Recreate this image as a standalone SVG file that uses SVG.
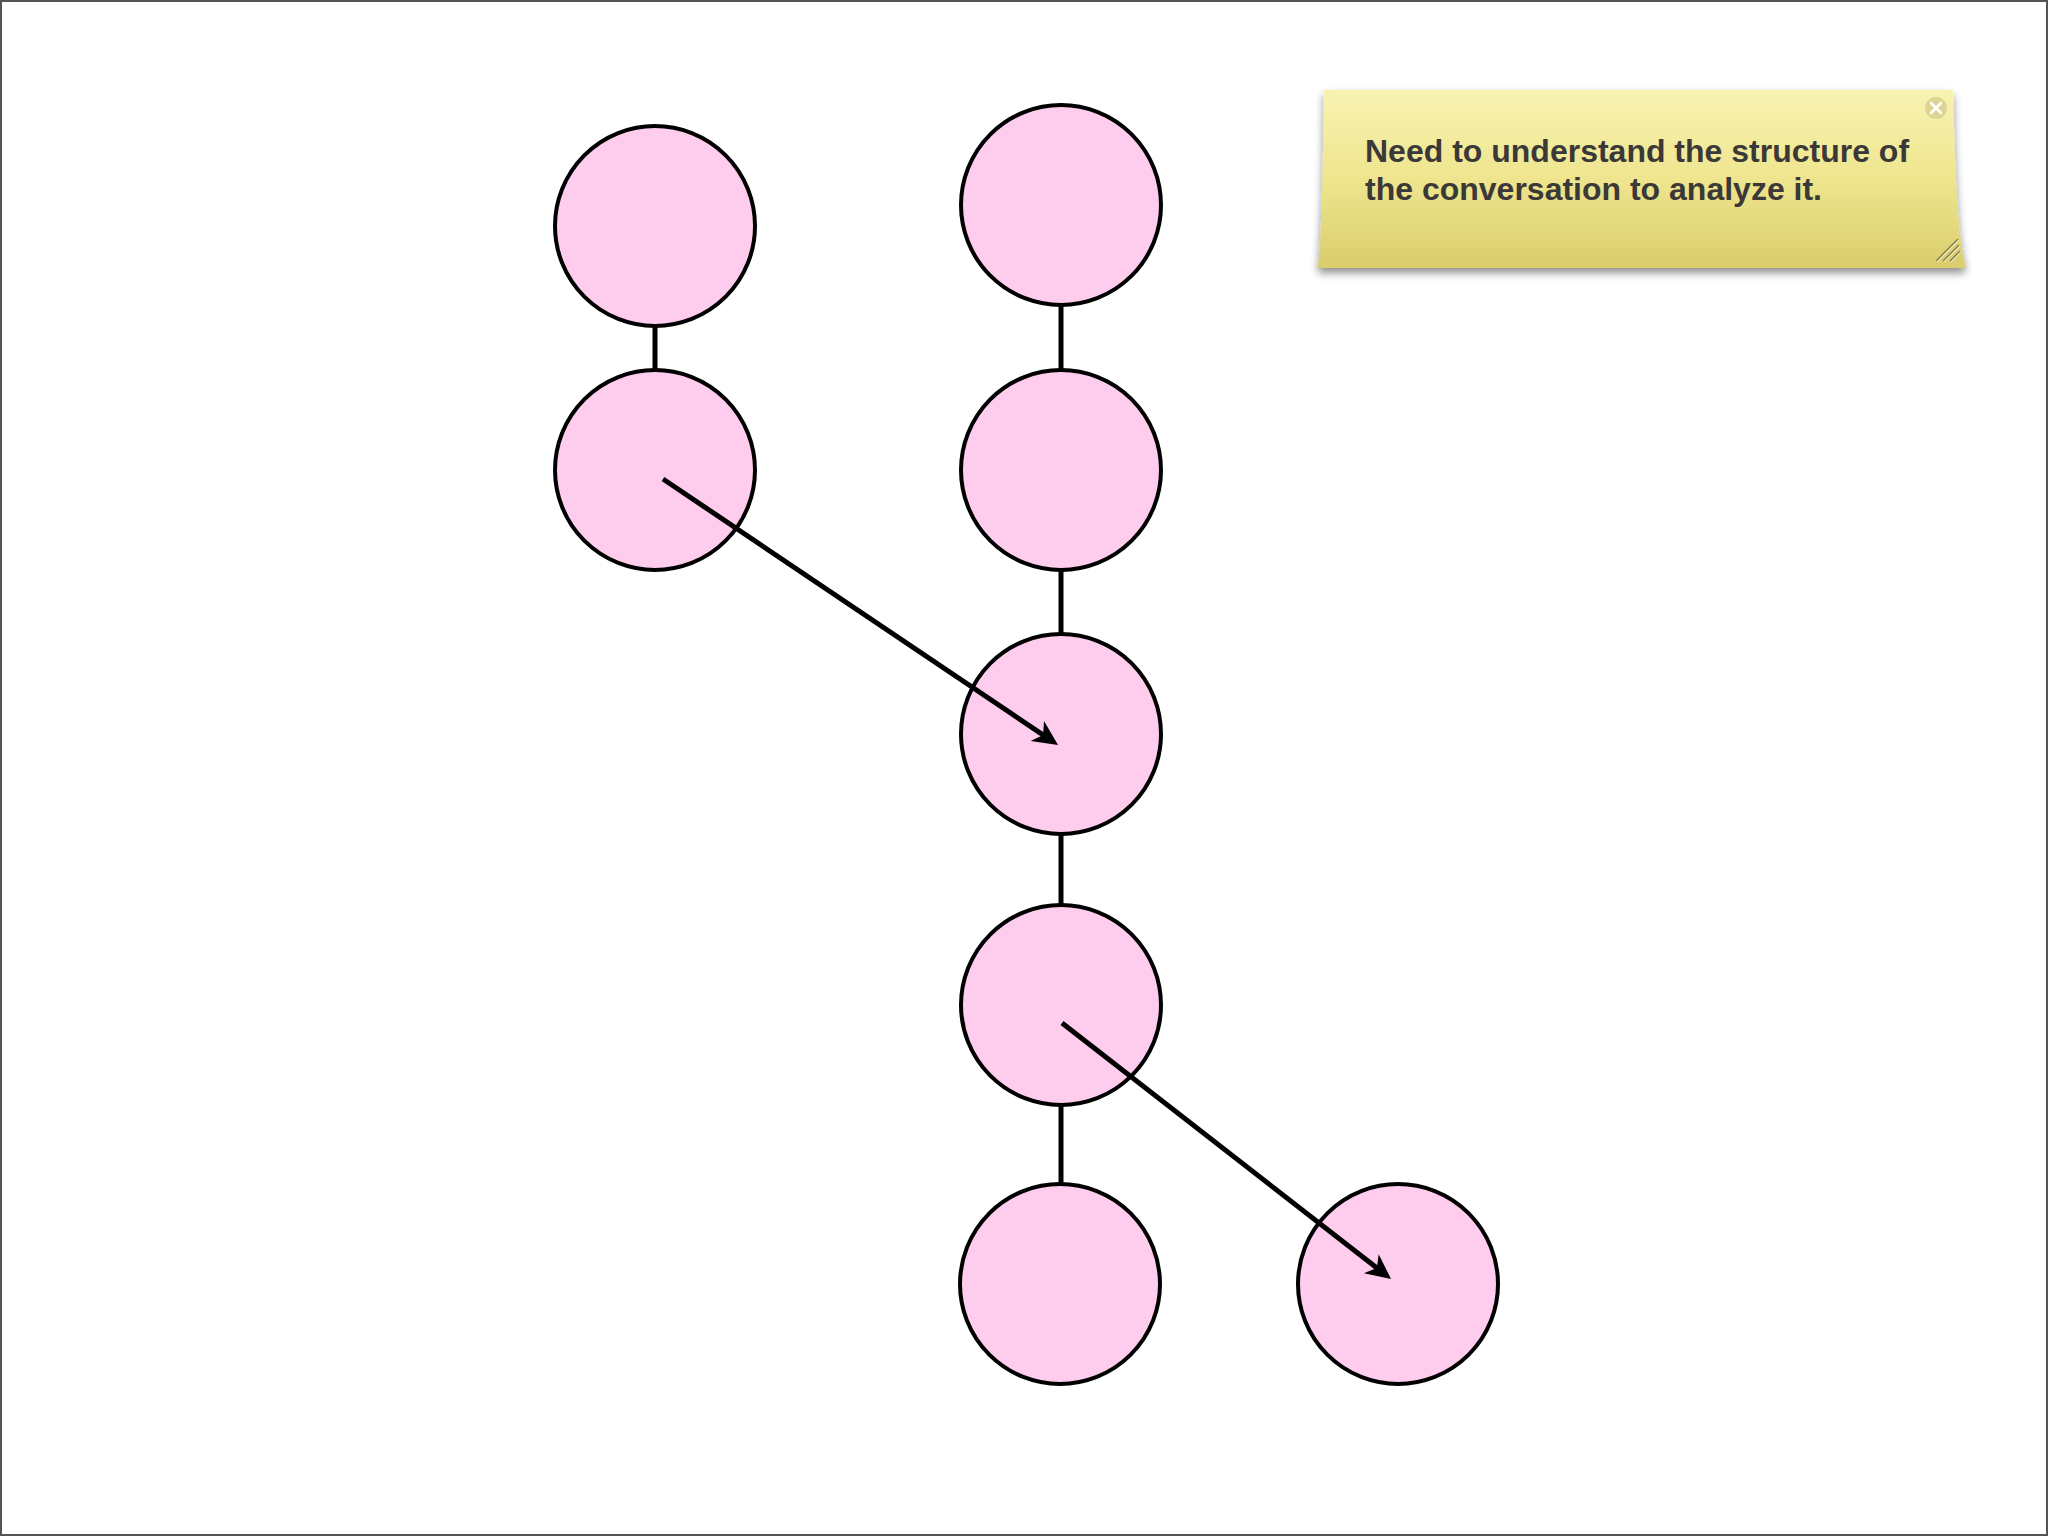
<svg xmlns="http://www.w3.org/2000/svg" width="2048" height="1536" viewBox="0 0 2048 1536">
  <style>
    .node { fill: #fecced; stroke: #000; stroke-width: 4; }
    .edge { stroke: #000; stroke-width: 5; fill: none; }
    .arrow { stroke: #000; stroke-width: 5; fill: none; marker-end: url(#barb); }
    .note-text { font-family: "Liberation Sans", Arial, sans-serif; font-weight: bold; font-size: 32px; fill: #3b3838; }
  </style>
  <defs>
    <marker id="barb" markerUnits="userSpaceOnUse" viewBox="-30 -15 35 30" refX="-15" refY="0" markerWidth="35" markerHeight="30" orient="auto">
      <path d="M0,0 L-25,-12 L-18,0 L-25,12 Z" fill="#000"/>
    </marker>
    <linearGradient id="noteGrad" x1="0" y1="0" x2="0" y2="1">
      <stop offset="0" stop-color="#f9f3b2"/>
      <stop offset="0.5" stop-color="#eee58e"/>
      <stop offset="1" stop-color="#d9cd6c"/>
    </linearGradient>
    <filter id="shadow" x="-10%" y="-10%" width="120%" height="130%">
      <feGaussianBlur in="SourceAlpha" stdDeviation="4"/>
      <feOffset dx="0" dy="5" result="b"/>
      <feComponentTransfer><feFuncA type="linear" slope="0.45"/></feComponentTransfer>
      <feMerge><feMergeNode/><feMergeNode in="SourceGraphic"/></feMerge>
    </filter>
  </defs>

  <rect x="0" y="0" width="2048" height="1536" fill="#ffffff"/>
  <rect x="1" y="1" width="2046" height="1534" fill="none" stroke="#555555" stroke-width="2"/>

  <g id="connectors">
    <line class="edge" x1="655" y1="326" x2="655" y2="370"/>
    <line class="edge" x1="1061" y1="305" x2="1061" y2="370"/>
    <line class="edge" x1="1061" y1="570" x2="1061" y2="634"/>
    <line class="edge" x1="1061" y1="834" x2="1061" y2="905"/>
    <line class="edge" x1="1061" y1="1105" x2="1061" y2="1184"/>
  </g>

  <g id="node-l1"><circle class="node" cx="655" cy="226" r="100"/></g>
  <g id="node-l2"><circle class="node" cx="655" cy="470" r="100"/></g>
  <g id="node-r1"><circle class="node" cx="1061" cy="205" r="100"/></g>
  <g id="node-r2"><circle class="node" cx="1061" cy="470" r="100"/></g>
  <g id="node-r3"><circle class="node" cx="1061" cy="734" r="100"/></g>
  <g id="node-r4"><circle class="node" cx="1061" cy="1005" r="100"/></g>
  <g id="node-r5"><circle class="node" cx="1060" cy="1284" r="100"/></g>
  <g id="node-r6"><circle class="node" cx="1398" cy="1284" r="100"/></g>

  <g id="arrows">
    <line class="arrow" x1="663" y1="479" x2="1045.6" y2="736.6"/>
    <line class="arrow" x1="1062" y1="1023" x2="1379.2" y2="1269.8"/>
  </g>

  <g id="sticky-note">
    <path d="M1324,90 L1953,90 C1955,170 1957,230 1966,268 L1318,268 C1322,230 1323,160 1324,90 Z" fill="url(#noteGrad)" filter="url(#shadow)"/>
    <circle cx="1936" cy="108" r="11" fill="#ddd594"/>
    <path d="M1931,103 L1941,113 M1941,103 L1931,113" stroke="#ffffff" stroke-width="2.5" stroke-linecap="round"/>
    <path d="M1936,261 L1958,239 M1943,261 L1959,245 M1950,261 L1960,251" stroke="#8a8456" stroke-width="1.5"/>
    <path d="M1937,262 L1959,240 M1944,262 L1960,246 M1951,262 L1961,252" stroke="#ffffff" stroke-width="1" opacity="0.8"/>
    <text class="note-text" x="1365" y="162">Need to understand the structure of</text>
    <text class="note-text" x="1365" y="200">the conversation to analyze it.</text>
  </g>
</svg>
